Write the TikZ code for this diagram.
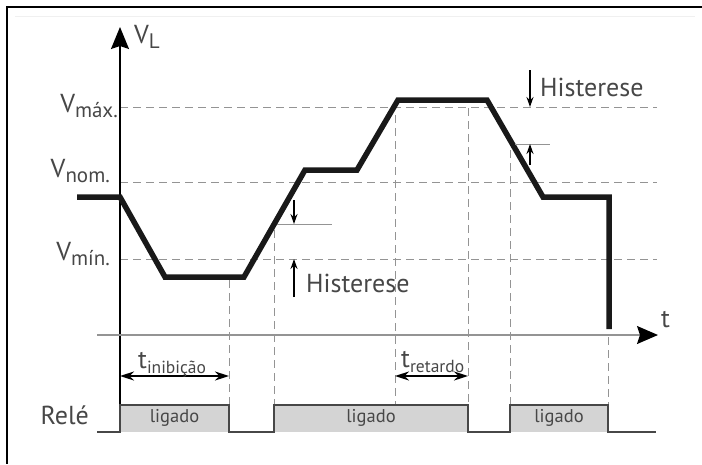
\documentclass[tikz,border=0pt]{standalone}
\usepackage{fontspec}
\setmainfont{PT Sans}
\usetikzlibrary{arrows.meta}

\definecolor{inkgray}{gray}{0.28}
\definecolor{gridgray}{gray}{0.58}
\definecolor{pulsegray}{gray}{0.83}

\newcommand{\vsub}[2]{#1\raisebox{-0.22em}{\fontsize{21}{21}\selectfont #2}}
\newcommand{\tsub}[2]{#1\raisebox{-0.22em}{\fontsize{17.5}{18}\selectfont #2}}

\begin{document}
\begin{tikzpicture}[x=1pt,y=-1pt]
\tikzstyle{every node}=[inner sep=0pt,text=inkgray]
\tikzstyle{frameline}=[line width=2.5pt,black]
\tikzstyle{level}=[gridgray,line width=1pt,dash pattern=on 8pt off 5pt]
\tikzstyle{signal}=[line width=5.5pt,black!90,line join=miter]
\tikzstyle{relay}=[line width=1.6pt,inkgray,line join=miter]
\tikzstyle{axisv}=[line width=1.5pt,black,-{Stealth[length=22pt,width=18pt,inset=3pt]}]
\tikzstyle{axist}=[line width=1.5pt,gridgray,-{Stealth[length=21pt,width=18pt,inset=3pt,color=black]}]
\tikzstyle{hyst}=[line width=1.7pt,black,-{Stealth[length=10pt,width=7pt]}]
\tikzstyle{hystline}=[line width=1pt,gridgray]
\tikzstyle{span}=[line width=2pt,black,{Stealth[length=14pt,width=9pt]}-{Stealth[length=14pt,width=9pt]}]
\tikzstyle{biglabel}=[font=\fontsize{26}{28}\selectfont]
\tikzstyle{smalllabel}=[font=\fontsize{18.5}{20}\selectfont]

\useasboundingbox (0,0) rectangle (702,464);

%% Frame
\coordinate (frame-tl) at (7,7);
\coordinate (frame-tr) at (702,7);
\coordinate (frame-bl) at (7,464);
\draw[frameline] (frame-tr) -- (frame-tl) -- (frame-bl);
\coordinate (rule-l) at (15,16);
\coordinate (rule-r) at (695,16);
\draw[gray!12,line width=1pt] (rule-l) -- (rule-r);

%% Voltage levels
\foreach \name/\y in {max/107,nom/182,min/259}{
  \coordinate (lvl-\name-a) at (120,\y);
  \coordinate (lvl-\name-b) at (657,\y);
  \draw[level] (lvl-\name-a) -- (lvl-\name-b);
}
\node[biglabel,anchor=base east] (vmax) at (118,112) {\vsub{V}{máx.}};
\node[biglabel,anchor=base east] (vnom) at (110,177) {\vsub{V}{nom.}};
\node[biglabel,anchor=base east] (vmin) at (110,260) {\vsub{V}{mín.}};

%% Time markers
\foreach \n/\x/\ytop in {a/229/280,b/274/230,c/395/115,d/468/108,e/510/150,f/608/337}{
  \coordinate (mark-\n-top) at (\x,\ytop);
  \coordinate (mark-\n-bot) at (\x,405);
  \draw[level] (mark-\n-top) -- (mark-\n-bot);
}

%% Axes
\coordinate (yaxis-bot) at (120,405);
\coordinate (yaxis-top) at (120,27);
\draw[axisv] (yaxis-bot) -- (yaxis-top);
\node[biglabel,anchor=base west] (vl) at (134,43) {\vsub{V}{L}};
\coordinate (taxis-l) at (97,335);
\coordinate (taxis-r) at (658,335);
\draw[axist] (taxis-l) -- (taxis-r);
\node[biglabel,anchor=base west] (tlabel) at (661,327) {t};

%% Supply voltage
\foreach \n/\x/\y in {0/77/197,1/120/197,2/165/277,3/244/277,4/305/170,5/357/170,
                      6/398/100,7/487/100,8/543/197,9/609/197,10/609/329}
  \coordinate (s\n) at (\x,\y);
\draw[signal] (s0) -- (s1) -- (s2) -- (s3) -- (s4) -- (s5) -- (s6) -- (s7)
  -- (s8) -- (s9) -- (s10);

%% Hysteresis marks
\coordinate (hl-a) at (277,224);
\coordinate (hl-b) at (332,224);
\draw[hystline] (hl-a) -- (hl-b);
\coordinate (hup-tail) at (294,200);
\coordinate (hup-tip) at (294,224);
\draw[hyst] (hup-tail) -- (hup-tip);
\coordinate (hlo-tail) at (294,297);
\coordinate (hlo-tip) at (294,259);
\draw[hyst] (hlo-tail) -- (hlo-tip);
\node[biglabel,anchor=base west] (hyst-low) at (306,292) {Histerese};

\coordinate (hr-a) at (515,144);
\coordinate (hr-b) at (550,144);
\draw[hystline] (hr-a) -- (hr-b);
\coordinate (hrt-tail) at (530,70);
\coordinate (hrt-tip) at (530,107);
\draw[hyst] (hrt-tail) -- (hrt-tip);
\coordinate (hrb-tail) at (530,165);
\coordinate (hrb-tip) at (530,144);
\draw[hyst] (hrb-tail) -- (hrb-tip);
\node[biglabel,anchor=base west] (hyst-high) at (540,96) {Histerese};

%% Delay spans
\coordinate (inib-a) at (120,376);
\coordinate (inib-b) at (229,376);
\draw[span] (inib-a) -- (inib-b);
\node[biglabel,anchor=base west] (tinib) at (138,368) {\tsub{t}{inibição}};
\coordinate (ret-a) at (395,376);
\coordinate (ret-b) at (468,376);
\draw[span] (ret-a) -- (ret-b);
\node[biglabel,anchor=base west] (tret) at (401,367) {\tsub{t}{retardo}};

%% Relay state
\foreach \n/\x/\y in {0/97/432,1/120/432,2/120/405,3/229/405,4/229/432,5/274/432,6/274/405,
                      7/468/405,8/468/432,9/510/432,10/510/405,11/608/405,12/608/432,13/656/432}
  \coordinate (r\n) at (\x,\y);
\fill[pulsegray] (r2) rectangle (r4);
\fill[pulsegray] (r6) rectangle (r8);
\fill[pulsegray] (r10) rectangle (r12);
\draw[relay] (r0) -- (r1) -- (r2) -- (r3) -- (r4) -- (r5) -- (r6) -- (r7) -- (r8)
  -- (r9) -- (r10) -- (r11) -- (r12) -- (r13);
\node[smalllabel] (lig-1) at (174.5,418) {ligado};
\node[smalllabel] (lig-2) at (371,418) {ligado};
\node[smalllabel] (lig-3) at (559,418) {ligado};
\node[biglabel,anchor=base east] (rele) at (89,424) {Relé};

\end{tikzpicture}
\end{document}
